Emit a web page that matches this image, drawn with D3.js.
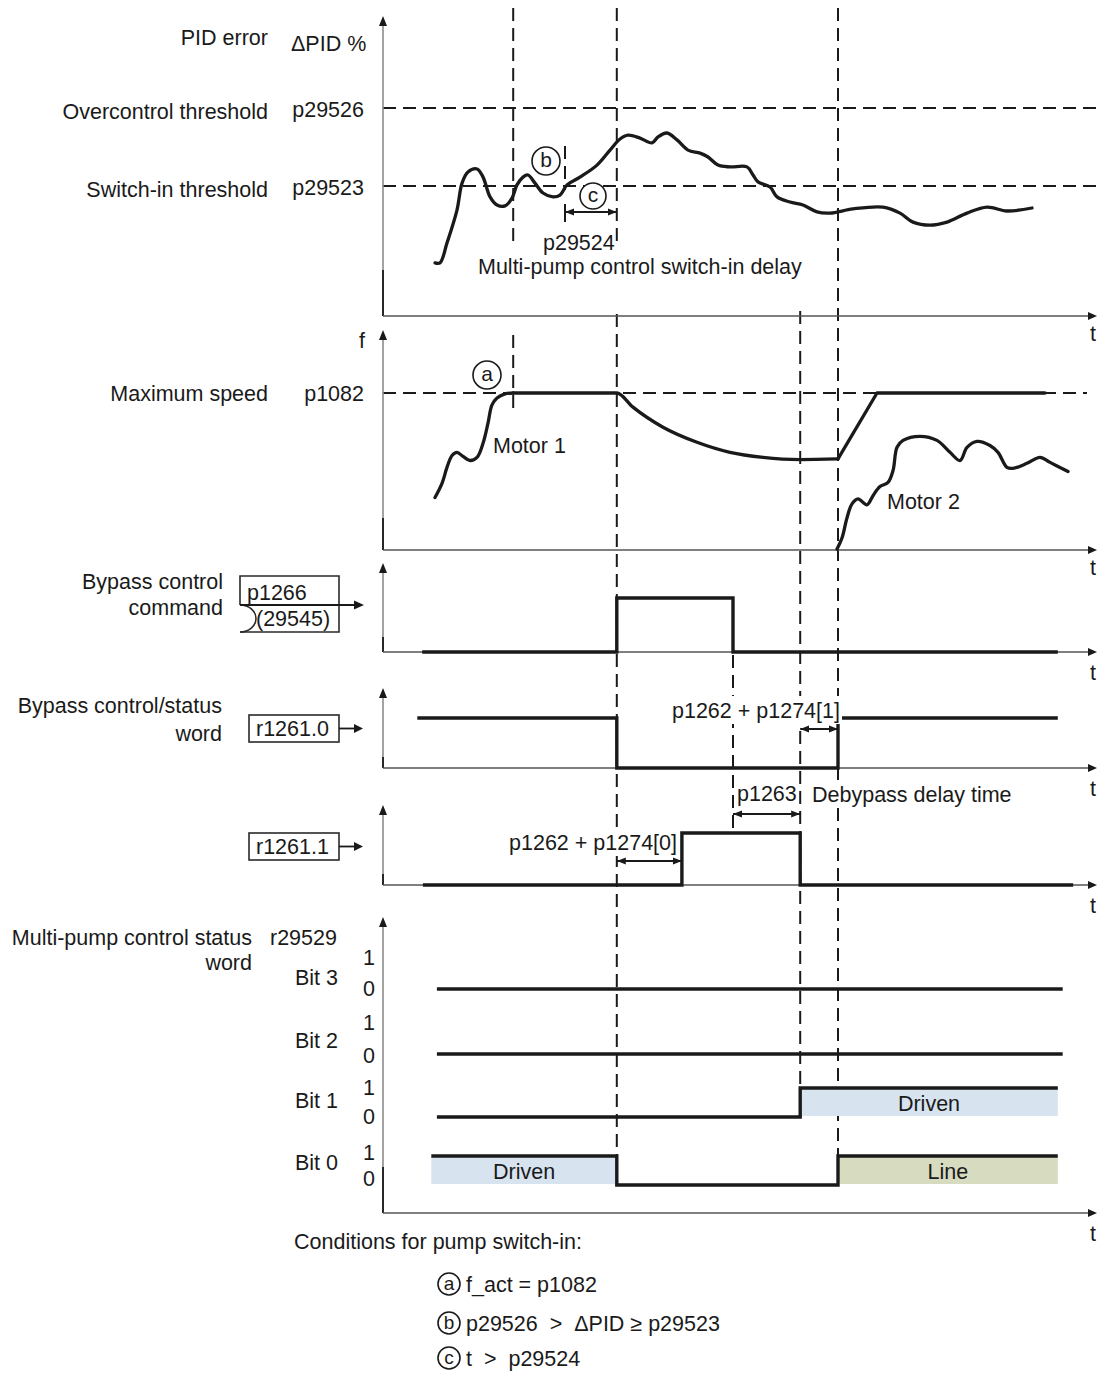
<!DOCTYPE html>
<html>
<head>
<meta charset="utf-8">
<script src="https://cdn.jsdelivr.net/npm/d3@7"></script>
<style>
  html, body { margin: 0; padding: 0; background: #fff; }
  svg { display: block; }
  text { font-family: "Liberation Sans", Arial, Helvetica, sans-serif; font-size: 21.5px; fill: #1a1a1a; }
</style>
</head>
<body>
<script>
// ---- Event instants on the shared time axis (time units) ----
const tCondA = 18.6;     // f_act reaches p1082
const tCondB = 26.0;     // ΔPID reaches switch-in threshold
const tSwitchIn = 33.4;  // switch-in delay p29524 elapsed
const tBypassOn = 42.7;  // r1261.1 set after p1262 + p1274[0]
const tCmdOff = 50.0;    // bypass command withdrawn
const tDriveOff = 59.6;  // r1261.1 reset after p1263
const tLine = 65.0;      // r1261.0 set after p1262 + p1274[1]

// ---- Thresholds (ΔPID %) ----
const pidThresholdNames = ["p29526", "p29523"];
const pidThresholdLabels = ["Overcontrol threshold", "Switch-in threshold"];
const pidThresholdValues = [69.3, 43.3];

// ---- PID error ΔPID % over time ----
const pidError = [
  [7.43,17.7],[8.14,17.7],[9.14,24.3],[10.57,35.3],[11.29,44.3],[12.14,48.0],[13.43,49.0],
  [14.29,46.3],[15.29,39.7],[16.29,37.0],[17.43,36.7],[18.43,39.3],[19.14,43.7],[20.0,46.3],
  [20.71,47.0],[21.71,44.3],[22.86,41.0],[24.29,39.7],[25.29,40.3],[26.29,43.7],[28.14,46.3],
  [30.57,50.3],[32.43,55.3],[33.86,59.0],[35.0,60.3],[36.71,59.3],[38.43,57.7],[39.29,59.7],
  [40.57,61.0],[42.0,58.7],[43.57,55.3],[45.29,54.3],[46.43,53.0],[47.86,50.3],[49.57,49.7],
  [52.0,49.7],[52.86,47.0],[53.57,44.7],[55.29,43.0],[56.29,39.7],[58.14,38.0],[60.0,37.0],
  [62.0,34.7],[63.86,34.3],[67.14,35.7],[71.43,36.3],[73.86,34.3],[75.71,31.3],[78.14,30.3],
  [80.57,31.3],[83.43,34.3],[86.29,36.3],[89.14,35.0],[92.71,36.0]
];

// ---- Frequency f (Hz), p1082 = maximum speed ----
const maxSpeed = 50;
const motor1Rise = [
  [7.43,16.7],[8.43,21.2],[9.14,26.3],[9.86,30.1],[10.57,31.1],[11.43,29.8],[12.43,28.5],
  [13.43,29.5],[14.29,34.0],[15.0,40.4],[15.57,46.2],[16.29,48.4],[17.43,49.7],[tCondA,50]
];
const driveHoldDecay = [
  [tCondA,50],[tSwitchIn,50],[35.71,45.5],[40.0,39.1],[44.86,34.3],[49.57,31.1],
  [54.29,29.5],[59.57,28.8],[tLine,29.0]
];
const driveRamp = [[tLine,29.0],[70.57,50],[94.57,50]];
const motor2Speed = [
  [64.86,0.3],[65.57,3.8],[66.29,10.3],[67.0,14.7],[67.86,16.3],[69.14,14.4],[70.0,17.3],
  [71.0,20.2],[72.14,21.5],[72.86,25.3],[73.43,32.7],[74.29,34.9],[76.71,36.2],[79.14,34.9],
  [81.0,31.1],[82.43,28.5],[83.43,32.7],[84.86,34.6],[86.71,33.3],[87.86,31.1],[89.14,26.3],
  [90.0,26.0],[92.0,27.6],[93.86,29.5],[95.29,27.9],[97.86,25.0]
];

// ---- Binary signals [time, level] ----
const bypassCommand = [[5.6,0],[tSwitchIn,1],[tCmdOff,0],[96.4,0]];
const r1261bit0 = [[4.9,1],[tSwitchIn,0],[tLine,1],[96.4,1]];
const r1261bit1 = [[5.7,0],[tBypassOn,1],[tDriveOff,0],[98.6,0]];

// ---- Multi-pump status word r29529 ----
const bitNames = ["Bit 3", "Bit 2", "Bit 1", "Bit 0"];
const levelLabels = ["1", "0"];
const statusBit3 = [[7.7,0],[97.1,0]];
const statusBit2 = [[7.7,0],[97.1,0]];
const statusBit1 = [[7.7,0],[tDriveOff,1],[96.4,1]];
const statusBit0 = [[6.9,1],[tSwitchIn,0],[tLine,1],[96.4,1]];
const statusBits = [statusBit3, statusBit2, statusBit1, statusBit0];
const bandLabels = ["Driven", "Driven", "Line"];
const bandBits = [2, 3, 3];
const bandStart = [tDriveOff, 6.9, tLine];
const bandEnd = [96.4, tSwitchIn, 96.4];

// ---- Conditions list ----
const conditionKeys = ["a", "b", "c"];
const conditionTexts = ["f_act = p1082", "p29526  >  ΔPID ≥ p29523", "t  >  p29524"];

// ================= drawing =================
const W = 1097, H = 1375;
const X0 = 383, XEND = 1097;
const INK = "#1a1a1a";
const FONT = '21.5px "Liberation Sans", Arial, Helvetica, sans-serif';
const svg = d3.select("body").append("svg").attr("width", W).attr("height", H);

const x = d3.scaleLinear().domain([0, 102]).range([X0, XEND]);
const yPid = d3.scaleLinear().domain([0, 100]).range([316, 16]);
const yFreq = d3.scaleLinear().domain([0, maxSpeed]).range([550, 393]);
const yCmd = d3.scaleLinear().domain([0, 1]).range([652, 598]);
const yR0 = d3.scaleLinear().domain([0, 1]).range([768, 718]);
const yR1 = d3.scaleLinear().domain([0, 1]).range([885, 833]);
const bitBase = [989, 1054, 1117, 1185];
const yBit = bitBase.map(b => d3.scaleLinear().domain([0, 1]).range([b, b - 29]));

const defs = svg.append("defs");
defs.append("marker").attr("id", "dimArrow").attr("viewBox", "0 0 10 10")
  .attr("refX", 10).attr("refY", 5).attr("markerWidth", 9).attr("markerHeight", 9)
  .attr("markerUnits", "userSpaceOnUse").attr("orient", "auto-start-reverse")
  .append("path").attr("d", "M0,1 L10,5 L0,9 Z").attr("fill", INK);

const gGuides = svg.append("g").attr("class", "guides");
const gAxes = svg.append("g").attr("class", "axes");
const gMarks = svg.append("g").attr("class", "marks");
const gText = svg.append("g").attr("class", "labels");

const measureCtx = document.createElement("canvas").getContext("2d");
measureCtx.font = FONT;

function label(str, px, py, anchor, size, parent) {
  const t = (parent || gText).append("text").attr("x", px).attr("y", py).attr("dy", "0.35em")
    .attr("text-anchor", anchor || "start").style("white-space", "pre").text(str);
  if (size) t.style("font-size", size + "px");
  return t;
}
// annotation text that interrupts the dashed guides behind it
function note(str, px, py, anchor) {
  const w = measureCtx.measureText(str).width;
  const left = anchor === "end" ? px - w : px;
  const g = gText.append("g");
  g.append("rect").attr("x", left - 2).attr("y", py - 14)
    .attr("width", w + 4).attr("height", 28).style("fill", "#ffffff");
  return label(str, px, py, anchor, null, g);
}

// axes with arrowheads
function panelAxes(top, base, tail, tLabelY) {
  gAxes.append("line").attr("x1", X0).attr("x2", X0).attr("y1", base).attr("y2", top + 8)
    .attr("stroke", "#8c8c8c").attr("stroke-width", 1.6);
  gAxes.append("line").attr("x1", X0).attr("x2", X0).attr("y1", base).attr("y2", base - tail)
    .attr("stroke", INK).attr("stroke-width", 1.8);
  gAxes.append("path").attr("d", `M${X0 - 4},${top + 10} L${X0},${top} L${X0 + 4},${top + 10} Z`).attr("fill", INK);
  gAxes.append("line").attr("x1", X0).attr("x2", XEND - 8).attr("y1", base).attr("y2", base)
    .attr("stroke", "#555").attr("stroke-width", 1.4);
  gAxes.append("path").attr("d", `M${XEND - 9},${base - 4} L${XEND},${base} L${XEND - 9},${base + 4} Z`).attr("fill", INK);
  label("t", 1093, tLabelY, "middle");
}
panelAxes(16, 316, 46, 333);
panelAxes(330, 550, 32, 567);
panelAxes(563, 652, 15, 672);
panelAxes(688, 768, 11, 788);
panelAxes(805, 885, 11, 905);
panelAxes(917, 1213, 46, 1233);

// dashed guides
function vGuide(t, y1, y2) {
  gGuides.append("line").attr("x1", x(t)).attr("x2", x(t)).attr("y1", y1).attr("y2", y2)
    .attr("stroke", INK).attr("stroke-width", 2).attr("stroke-dasharray", "13,7");
}
function hGuide(py, x2) {
  gGuides.append("line").attr("x1", X0).attr("x2", x2).attr("y1", py).attr("y2", py)
    .attr("stroke", INK).attr("stroke-width", 2).attr("stroke-dasharray", "13,7");
}
vGuide(tCondA, 8, 245);
vGuide(tCondA, 335, 413);
vGuide(tCondB, 146, 190);
vGuide(tSwitchIn, 8, 248);
vGuide(tSwitchIn, 314, 1185);
vGuide(tCmdOff, 655, 833);
vGuide(tDriveOff, 311, 1089);
vGuide(tLine, 8, 1185);
pidThresholdValues.forEach(v => hGuide(yPid(v), XEND));
hGuide(yFreq(maxSpeed), 1087);

// curves
function drawCurve(data, yS, curve) {
  gMarks.append("path").attr("d", d3.line().x(d => x(d[0])).y(d => yS(d[1])).curve(curve)(data))
    .attr("fill", "none").attr("stroke", INK).attr("stroke-width", 3.3)
    .attr("stroke-linejoin", "round").attr("stroke-linecap", "round");
}
drawCurve(pidError, yPid, d3.curveCatmullRom.alpha(0.5));
drawCurve(motor1Rise, yFreq, d3.curveCatmullRom.alpha(0.5));
drawCurve(driveHoldDecay, yFreq, d3.curveMonotoneX);
drawCurve(driveRamp, yFreq, d3.curveLinear);
drawCurve(motor2Speed, yFreq, d3.curveCatmullRom.alpha(0.5));

// status bands
bandLabels.forEach((lab, i) => {
  const ys = yBit[bandBits[i]];
  gMarks.append("rect").attr("x", x(bandStart[i])).attr("width", x(bandEnd[i]) - x(bandStart[i]))
    .attr("y", ys(1)).attr("height", ys(0) - ys(1) - 1)
    .attr("fill", lab === "Line" ? "#d7dbbf" : "#d7e4f0");
  label(lab, (x(bandStart[i]) + x(bandEnd[i])) / 2, (ys(0) + ys(1)) / 2 + 1, "middle");
});

// step signals
function drawStep(data, yS) {
  gMarks.append("path").attr("d", d3.line().x(d => x(d[0])).y(d => yS(d[1])).curve(d3.curveStepAfter)(data))
    .attr("fill", "none").attr("stroke", INK).attr("stroke-width", 3.4).attr("stroke-linejoin", "miter");
}
drawStep(bypassCommand, yCmd);
drawStep(r1261bit0, yR0);
drawStep(r1261bit1, yR1);
statusBits.forEach((d, i) => drawStep(d, yBit[i]));

// dimension arrows
function dim(t1, t2, py) {
  gMarks.append("line").attr("x1", x(t1)).attr("x2", x(t2)).attr("y1", py).attr("y2", py)
    .attr("stroke", INK).attr("stroke-width", 2)
    .attr("marker-start", "url(#dimArrow)").attr("marker-end", "url(#dimArrow)");
}
dim(tCondB, tSwitchIn, 212);
gMarks.append("line").attr("x1", x(tCondB)).attr("x2", x(tCondB)).attr("y1", 204).attr("y2", 222)
  .attr("stroke", INK).attr("stroke-width", 2);
dim(tDriveOff, tLine, 729);
dim(tCmdOff, tDriveOff, 814);
dim(tSwitchIn, tBypassOn, 861);

// circled markers
function circled(cx, cy, r, ch, size) {
  gText.append("circle").attr("cx", cx).attr("cy", cy).attr("r", r)
    .attr("fill", "#fff").attr("stroke", INK).attr("stroke-width", 1.6);
  label(ch, cx, cy - 1, "middle", size);
}
circled(487, 375, 14, "a", 21);
circled(546, 161, 14, "b", 21);
circled(593, 196, 13, "c", 21);

// left-hand labels
label("PID error", 268, 37, "end");
label("ΔPID %", 291, 43, "start");
pidThresholdValues.forEach((v, i) => {
  label(pidThresholdLabels[i], 268, yPid(v) + 3, "end");
  label(pidThresholdNames[i], 364, yPid(v) + 1, "end");
});
label("f", 362, 340, "middle");
label("Maximum speed", 268, yFreq(maxSpeed), "end");
label("p1082", 364, yFreq(maxSpeed), "end");
label("Bypass control", 223, 581, "end");
label("command", 223, 607, "end");
label("Bypass control/status", 222, 705, "end");
label("word", 222, 733, "end");
label("Multi-pump control status", 252, 937, "end");
label("word", 252, 962, "end");
label("r29529", 270, 937, "start");

// connector boxes
const boxStroke = "#2a2a2a";
gMarks.append("path").attr("d", "M240,605 L240,576 L339,576 L339,632 L240,632")
  .attr("fill", "none").attr("stroke", boxStroke).attr("stroke-width", 1.6);
gMarks.append("path").attr("d", "M240,605 A16,13.5 0 0 1 240,632")
  .attr("fill", "none").attr("stroke", boxStroke).attr("stroke-width", 1.6);
gMarks.append("line").attr("x1", 240).attr("x2", 356).attr("y1", 605).attr("y2", 605)
  .attr("stroke", INK).attr("stroke-width", 1.8);
gMarks.append("path").attr("d", "M354,600.5 L364,605 L354,609.5 Z").attr("fill", INK);
label("p1266", 247, 592, "start");
label("(29545)", 256, 618, "start");

function regBox(name, top) {
  gMarks.append("rect").attr("x", 249).attr("y", top).attr("width", 90).attr("height", 27)
    .attr("fill", "none").attr("stroke", boxStroke).attr("stroke-width", 1.6);
  const my = top + 13.5;
  gMarks.append("line").attr("x1", 339).attr("x2", 356).attr("y1", my).attr("y2", my)
    .attr("stroke", INK).attr("stroke-width", 1.8);
  gMarks.append("path").attr("d", `M354,${my - 4.5} L363,${my} L354,${my + 4.5} Z`).attr("fill", INK);
  label(name, 256, my, "start");
}
regBox("r1261.0", 715);
regBox("r1261.1", 833);

// status word row labels
const bitLabelY = [977, 1040, 1100, 1162];
const oneY = [957, 1022, 1087, 1152];
const zeroY = [988, 1055, 1116, 1178];
bitNames.forEach((b, i) => {
  label(b, 338, bitLabelY[i], "end");
  label(levelLabels[0], 369, oneY[i], "middle");
  label(levelLabels[1], 369, zeroY[i], "middle");
});

// annotations in the traces
label("p29524", 543, 242, "start");
label("Multi-pump control switch-in delay", 478, 266, "start");
label("Motor 1", 493, 445, "start");
label("Motor 2", 887, 501, "start");
note("p1262 + p1274[1]", 672, 710, "start");
note("p1263", 737, 793, "start");
note("Debypass delay time", 812, 794, "start");
note("p1262 + p1274[0]", 677, 842, "end");

// conditions list
label("Conditions for pump switch-in:", 294, 1241, "start");
const condY = [1284, 1323, 1358];
conditionKeys.forEach((k, i) => {
  circled(449, condY[i], 11, k, 19);
  label(conditionTexts[i], 466, condY[i], "start");
});
</script>
</body>
</html>
